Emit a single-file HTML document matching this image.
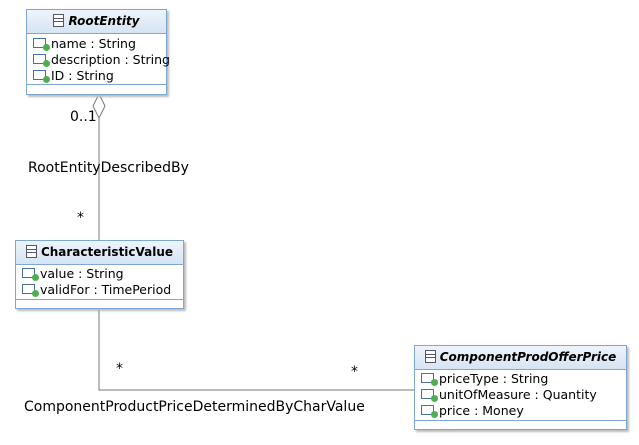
<!DOCTYPE html>
<html><head><style>
body{margin:0;width:639px;height:445px;background:#fff;position:relative;font-family:"DejaVu Sans","Liberation Sans",sans-serif;font-size:12px;color:#000;overflow:hidden}
.box{position:absolute;border:1px solid #7fa7d3;background:#fff;box-shadow:2px 2px 2px #bbb}
.hd{height:23px;background:linear-gradient(#eef4fb,#d6e4f3);border-bottom:1px solid #7fa7d3;text-align:center;font-weight:bold;line-height:23px;font-size:12px}
.hd i{font-style:italic}
.ic{display:inline-block;width:9px;height:11px;border:1px solid #556;vertical-align:-2px;margin-right:4px;background:linear-gradient(#fff 0 3px,#556 3px 4px,#fff 4px 6px,#556 6px 7px,#fff 7px)}
.at{padding-left:6px;line-height:16px;font-size:12.5px;white-space:nowrap}
.a{position:relative;display:inline-block;width:11px;height:8px;border:1px solid #4a6fa0;margin-right:5px;vertical-align:0px}
.a:after{content:"";position:absolute;right:-5px;bottom:-4px;width:7px;height:7px;border-radius:50%;background:#4caf50}
.bt{border-top:1px solid #7fa7d3}
.t{position:absolute;font-size:14px;white-space:nowrap}
</style></head><body>
<svg width="639" height="445" style="position:absolute;left:0;top:0">
<line x1="99" y1="118" x2="99" y2="240" stroke="#777"/>
<polygon points="99,94 105,106 99,118 93,106" fill="#fff" stroke="#777"/>
<polyline points="99,309 99,390 414,390" fill="none" stroke="#777"/>
</svg>
<div class="box" style="left:26px;top:9px;width:139px;height:84px">
<div class="hd"><span class="ic"></span><i>RootEntity</i></div>
<div style="padding-top:2px;height:48px"><div class="at"><span class="a"></span>name : String</div><div class="at"><span class="a"></span>description : String</div><div class="at"><span class="a"></span>ID : String</div></div>
<div class="bt"></div></div>
<div class="box" style="left:15px;top:240px;width:167px;height:67px">
<div class="hd"><span class="ic"></span>CharacteristicValue</div>
<div style="padding-top:1px;height:33px"><div class="at"><span class="a"></span>value : String</div><div class="at"><span class="a"></span>validFor : TimePeriod</div></div>
<div class="bt"></div></div>
<div class="box" style="left:414px;top:345px;width:211px;height:83px">
<div class="hd"><span class="ic"></span><i>ComponentProdOfferPrice</i></div>
<div style="padding-top:1px;height:49px"><div class="at"><span class="a"></span>priceType : String</div><div class="at"><span class="a"></span>unitOfMeasure : Quantity</div><div class="at"><span class="a"></span>price : Money</div></div>
<div class="bt"></div></div>
<div class="t" style="left:70px;top:109px">0..1</div>
<div class="t" style="left:28px;top:160px">RootEntityDescribedBy</div>
<div class="t" style="left:77px;top:210px">*</div>
<div class="t" style="left:116px;top:361px">*</div>
<div class="t" style="left:351px;top:364px">*</div>
<div class="t" style="left:24px;top:399px">ComponentProductPriceDeterminedByCharValue</div>
</body></html>
